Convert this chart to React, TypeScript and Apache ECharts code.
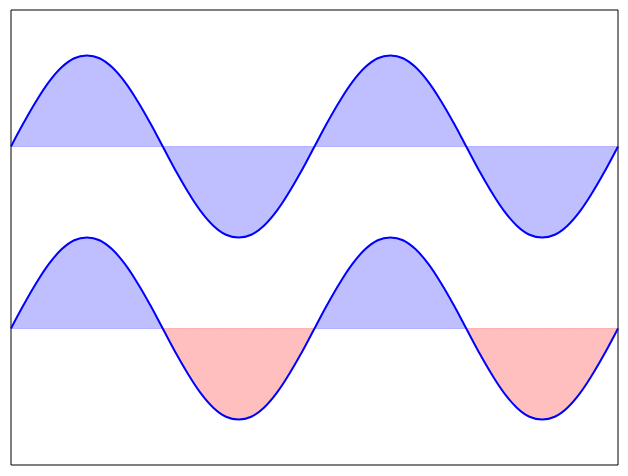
import React, { useEffect, useRef } from "react";
import * as echarts from "echarts";

// x positions in degrees of phase (two full periods)
const categories = [
  "0", "15", "30", "45", "60", "75", "90", "105", "120", "135", "150", "165",
  "180", "195", "210", "225", "240", "255", "270", "285", "300", "315", "330", "345",
  "360", "375", "390", "405", "420", "435", "450", "465", "480", "495", "510", "525",
  "540", "555", "570", "585", "600", "615", "630", "645", "660", "675", "690", "705", "720",
];

// upper wave (centred on 2)
const topWave = [
  2, 2.26, 2.5, 2.71, 2.87, 2.97, 3, 2.97, 2.87, 2.71, 2.5, 2.26,
  2, 1.74, 1.5, 1.29, 1.13, 1.03, 1, 1.03, 1.13, 1.29, 1.5, 1.74,
  2, 2.26, 2.5, 2.71, 2.87, 2.97, 3, 2.97, 2.87, 2.71, 2.5, 2.26,
  2, 1.74, 1.5, 1.29, 1.13, 1.03, 1, 1.03, 1.13, 1.29, 1.5, 1.74, 2,
];

// lower wave (centred on 0)
const bottomWave = [
  0, 0.26, 0.5, 0.71, 0.87, 0.97, 1, 0.97, 0.87, 0.71, 0.5, 0.26,
  0, -0.26, -0.5, -0.71, -0.87, -0.97, -1, -0.97, -0.87, -0.71, -0.5, -0.26,
  0, 0.26, 0.5, 0.71, 0.87, 0.97, 1, 0.97, 0.87, 0.71, 0.5, 0.26,
  0, -0.26, -0.5, -0.71, -0.87, -0.97, -1, -0.97, -0.87, -0.71, -0.5, -0.26, 0,
];

const topBase = 2;
const bottomBase = 0;

const BLUE_FILL = "rgba(0,0,255,0.25)";
const RED_FILL = "rgba(255,0,0,0.25)";

export default function App() {
  const ref = useRef<HTMLDivElement>(null);
  useEffect(() => {
    if (!ref.current) return;
    const chart = echarts.init(ref.current, undefined, { renderer: "svg" });

    const posPart = bottomWave.map((v) => (v >= 0 ? v : null));
    const negPart = bottomWave.map((v) => (v <= 0 ? v : null));
    const posBase = posPart.map((v) => (v === null ? null : bottomBase));
    const negBase = negPart.map((v) => (v === null ? null : bottomBase));
    const topBaseLine = topWave.map(() => topBase);

    const fillSeries = (data: (number | null)[], color: string, origin: number) => ({
      type: "line",
      data,
      smooth: 0.4,
      showSymbol: false,
      symbol: "none",
      connectNulls: false,
      lineStyle: { width: 0, opacity: 0 },
      areaStyle: { color, origin, opacity: 1 },
      z: 1,
    });
    const baseSeries = (data: (number | null)[], color: string) => ({
      type: "line",
      data,
      showSymbol: false,
      symbol: "none",
      connectNulls: false,
      lineStyle: { width: 1, color },
      z: 2,
    });
    const curveSeries = (data: number[]) => ({
      type: "line",
      data,
      smooth: 0.4,
      showSymbol: false,
      symbol: "none",
      lineStyle: { width: 2, color: "#0000ff" },
      z: 3,
    });

    chart.setOption({
      animation: false,
      grid: {
        left: 11,
        right: 10,
        top: 10,
        bottom: 11,
        show: true,
        borderColor: "#000",
        borderWidth: 1,
        backgroundColor: "#fff",
      },
      xAxis: {
        type: "category",
        data: categories,
        boundaryGap: false,
        axisLine: { show: false },
        axisTick: { show: false },
        axisLabel: { show: false },
        splitLine: { show: false },
      },
      yAxis: {
        type: "value",
        min: -1.5,
        max: 3.5,
        axisLine: { show: false },
        axisTick: { show: false },
        axisLabel: { show: false },
        splitLine: { show: false },
      },
      series: [
        fillSeries(topWave, BLUE_FILL, topBase),
        baseSeries(topBaseLine, "rgba(0,0,255,0.2)"),
        fillSeries(posPart, BLUE_FILL, bottomBase),
        fillSeries(negPart, RED_FILL, bottomBase),
        baseSeries(posBase, "rgba(0,0,255,0.2)"),
        baseSeries(negBase, "rgba(255,0,0,0.2)"),
        curveSeries(topWave),
        curveSeries(bottomWave),
      ],
    });
    return () => chart.dispose();
  }, []);
  return <div ref={ref} style={{ width: 628, height: 476, margin: -8 }} />;
}
